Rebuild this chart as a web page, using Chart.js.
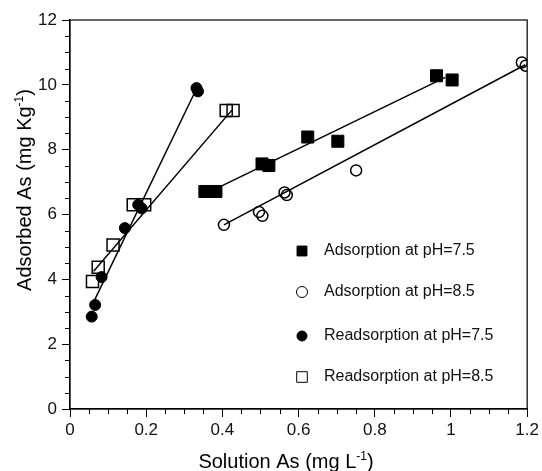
<!DOCTYPE html>
<html>
<head>
<meta charset="utf-8">
<script src="https://cdn.jsdelivr.net/npm/chart.js@4.4.1/dist/chart.umd.min.js"></script>
<style>
  html, body { margin: 0; padding: 0; background: #fff; }
  #wrap { width: 542px; height: 471px; }
</style>
</head>
<body>
<div id="wrap"><canvas id="chart"></canvas></div>
<script>
// values: solution As (mg/L) vs adsorbed As (mg/kg)
var adsorp75X = [0.354, 0.383, 0.504, 0.522, 0.624, 0.703, 0.962, 1.003];
var adsorp75Y = [6.71, 6.71, 7.56, 7.51, 8.39, 8.26, 10.28, 10.15];
var adsorp85X = [0.404, 0.496, 0.505, 0.563, 0.569, 0.751, 1.186, 1.196];
var adsorp85Y = [5.68, 6.08, 5.96, 6.68, 6.60, 7.36, 10.69, 10.59];
var readsorp75X = [0.057, 0.066, 0.083, 0.144, 0.179, 0.188, 0.332, 0.336];
var readsorp75Y = [2.85, 3.21, 4.07, 5.58, 6.30, 6.19, 9.90, 9.80];
var readsorp85X = [0.059, 0.074, 0.113, 0.166, 0.196, 0.410, 0.428];
var readsorp85Y = [3.93, 4.37, 5.06, 6.30, 6.30, 9.21, 9.21];

// end points of the fitted lines, as drawn in the figure
var fitAds75X = [0.37, 0.985];
var fitAds75Y = [6.72, 10.23];
var fitAds85X = [0.404, 1.195];
var fitAds85Y = [5.68, 10.62];
var fitRe75X = [0.06, 0.332];
var fitRe75Y = [3.25, 9.88];
var fitRe85X = [0.062, 0.425];
var fitRe85Y = [4.25, 9.22];

var legendLabels = ["Adsorption at pH=7.5", "Adsorption at pH=8.5",
  "Readsorption at pH=7.5", "Readsorption at pH=8.5"];

var xTicks = [0, 0.2, 0.4, 0.6, 0.8, 1, 1.2];
var yTicks = [0, 2, 4, 6, 8, 10, 12];

var FONT = "'Liberation Sans', Arial, Helvetica, sans-serif";

function pts(xs, ys) {
  return xs.map(function (x, i) { return {x: x, y: ys[i]}; });
}

function markerSet(label, xs, ys, style, filled, r) {
  return {
    label: label,
    data: pts(xs, ys),
    pointStyle: style,
    pointRadius: r,
    pointHoverRadius: r,
    pointBackgroundColor: filled ? '#000' : 'rgba(0,0,0,0)',
    pointBorderColor: '#000',
    pointBorderWidth: filled ? 1 : 1.5,
    showLine: false
  };
}

function fitLine(xs, ys) {
  return {
    type: 'line',
    data: pts(xs, ys),
    borderColor: '#000',
    borderWidth: 1.5,
    pointRadius: 0,
    fill: false,
    showLine: true
  };
}

var marks = [
  {style: 'rect', filled: true, r: 7},
  {style: 'circle', filled: false, r: 5.5},
  {style: 'circle', filled: true, r: 5},
  {style: 'rect', filled: false, r: 7.5}
];

// text with a superscript part, drawn centred on (0,0) of the current transform
function drawSupText(ctx, base, sup, tail, size) {
  var f1 = size + 'px ' + FONT, f2 = Math.round(size * 0.62) + 'px ' + FONT;
  ctx.font = f1;
  var w1 = ctx.measureText(base).width, w3 = ctx.measureText(tail).width;
  ctx.font = f2;
  var w2 = ctx.measureText(sup).width;
  var x = -(w1 + w2 + w3) / 2;
  ctx.textAlign = 'left';
  ctx.textBaseline = 'alphabetic';
  ctx.font = f1;
  ctx.fillText(base, x, 0);
  ctx.font = f2;
  ctx.fillText(sup, x + w1, -size * 0.42);
  ctx.font = f1;
  ctx.fillText(tail, x + w1 + w2, 0);
}

var decorations = {
  id: 'decorations',
  afterDraw: function (chart) {
    var ctx = chart.ctx, a = chart.chartArea;
    var xs = chart.scales.x, ys = chart.scales.y;
    ctx.save();
    ctx.strokeStyle = '#000';
    ctx.fillStyle = '#000';
    ctx.lineWidth = 1.2;
    ctx.strokeRect(a.left, a.top, a.right - a.left, a.bottom - a.top);

    // minor ticks
    ctx.lineWidth = 1;
    ctx.beginPath();
    for (var i = 0; i <= 24; i++) {
      if (i % 4 === 0) continue;
      var px = Math.round(xs.getPixelForValue(i * 0.05)) + 0.5;
      ctx.moveTo(px, a.bottom);
      ctx.lineTo(px, a.bottom + 5);
    }
    for (var j = 0; j <= 24; j++) {
      if (j % 4 === 0) continue;
      var py = Math.round(ys.getPixelForValue(j * 0.5)) + 0.5;
      ctx.moveTo(a.left, py);
      ctx.lineTo(a.left - 5, py);
    }
    ctx.stroke();

    // axis titles
    ctx.save();
    ctx.translate(286, 468);
    drawSupText(ctx, 'Solution As (mg L', '-1', ')', 20);
    ctx.restore();
    ctx.save();
    ctx.translate(31, 190);
    ctx.rotate(-Math.PI / 2);
    drawSupText(ctx, 'Adsorbed As (mg Kg', '-1', ')', 20);
    ctx.restore();

    // legend
    var rows = [251, 292, 336, 377];
    legendLabels.forEach(function (lab, k) {
      var m = marks[k];
      ctx.fillStyle = m.filled ? '#000' : 'rgba(0,0,0,0)';
      ctx.strokeStyle = '#000';
      Chart.helpers.drawPoint(ctx, {
        pointStyle: m.style, radius: m.r, rotation: 0,
        borderWidth: m.filled ? 1 : 1.5
      }, 302, rows[k]);
      ctx.fillStyle = '#111';
      ctx.font = '16px ' + FONT;
      ctx.textAlign = 'left';
      ctx.textBaseline = 'middle';
      ctx.fillText(lab, 324, rows[k]);
    });
    ctx.restore();
  }
};

var ctx = document.getElementById('chart').getContext('2d');
var chart = new Chart(ctx, {
  type: 'scatter',
  data: {
    datasets: [
      markerSet(legendLabels[0], adsorp75X, adsorp75Y, 'rect', true, 8.5),
      markerSet(legendLabels[1], adsorp85X, adsorp85Y, 'circle', false, 5.5),
      markerSet(legendLabels[2], readsorp75X, readsorp75Y, 'circle', true, 5.5),
      markerSet(legendLabels[3], readsorp85X, readsorp85Y, 'rect', false, 8.5),
      fitLine(fitAds75X, fitAds75Y),
      fitLine(fitAds85X, fitAds85Y),
      fitLine(fitRe75X, fitRe75Y),
      fitLine(fitRe85X, fitRe85Y)
    ]
  },
  options: {
    responsive: true,
    maintainAspectRatio: false,
    animation: false,
    layout: {padding: {left: 0, right: 14, top: 20, bottom: 0}},
    plugins: {
      legend: {display: false},
      tooltip: {enabled: false}
    },
    scales: {
      x: {
        type: 'linear',
        min: 0,
        max: 1.2,
        afterBuildTicks: function (s) { s.ticks = xTicks.map(function (v) { return {value: v}; }); },
        afterFit: function (s) { s.height = 62; },
        ticks: {
          color: '#111',
          padding: 3,
          maxRotation: 0,
          font: {family: FONT, size: 17},
          callback: function (v) { return String(Math.round(v * 10) / 10); }
        },
        grid: {drawOnChartArea: false, drawTicks: true, tickLength: 8, color: '#000', lineWidth: 1},
        border: {display: true, color: '#000', width: 1.2}
      },
      y: {
        type: 'linear',
        min: 0,
        max: 12,
        afterBuildTicks: function (s) { s.ticks = yTicks.map(function (v) { return {value: v}; }); },
        afterFit: function (s) { s.width = 70; },
        ticks: {
          color: '#111',
          padding: 5,
          font: {family: FONT, size: 17}
        },
        grid: {drawOnChartArea: false, drawTicks: true, tickLength: 8, color: '#000', lineWidth: 1},
        border: {display: true, color: '#000', width: 1.2}
      }
    }
  },
  plugins: [decorations]
});
</script>
</body>
</html>
